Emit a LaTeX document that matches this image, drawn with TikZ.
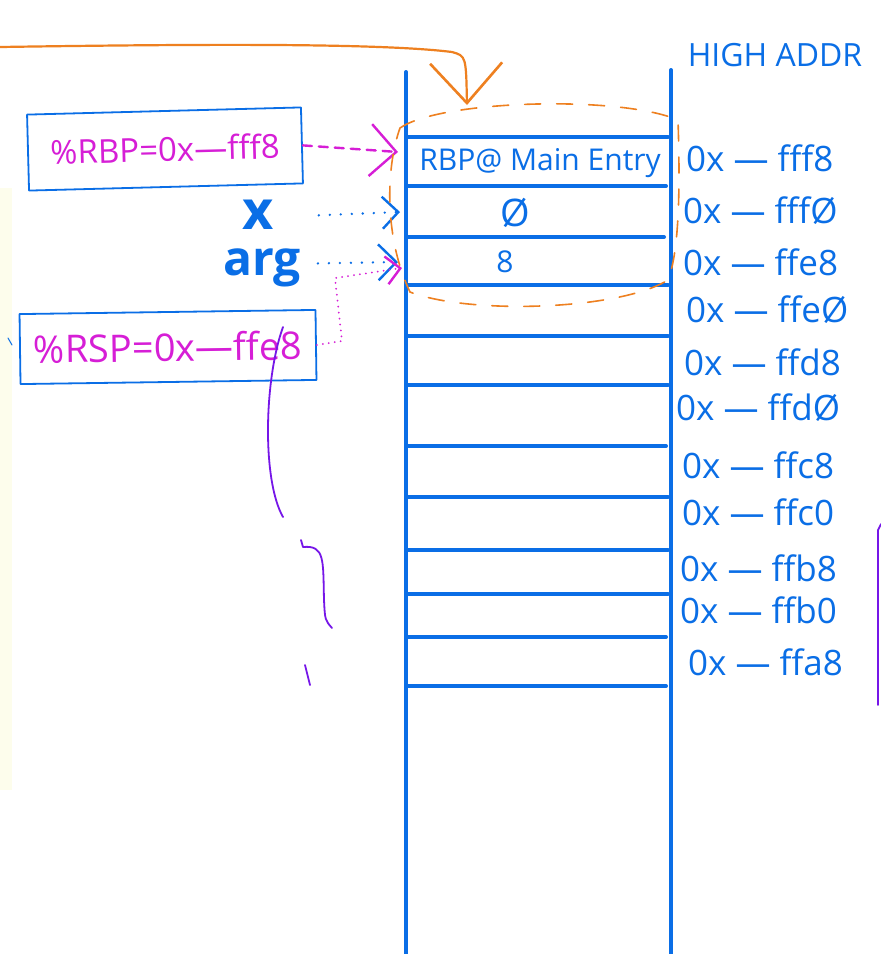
\documentclass[tikz,border=0pt]{standalone}
\usepackage{fontspec}
\setmainfont{Open Sans}
\usetikzlibrary{arrows.meta}
\definecolor{penblue}{RGB}{10,110,230}
\definecolor{penpink}{RGB}{214,30,214}
\definecolor{penorange}{RGB}{238,128,32}
\definecolor{penpurple}{RGB}{118,22,232}
\definecolor{padyellow}{RGB}{253,253,236}

\begin{document}
\begin{tikzpicture}[x=1pt,y=-1pt,line cap=round,line join=round,
  wall/.style={penblue,line width=4pt},
  addr/.style={penblue,anchor=west,inner sep=0pt,font=\fontsize{35}{37}\selectfont},
  cell/.style={penblue,inner sep=0pt,font=\fontsize{30}{32}\selectfont},
  regbox/.style={draw=penblue,line width=1.8pt,text=penpink,inner sep=4pt},
  barb/.style={-{Straight Barb[length=#1,width=2*#1,line width=2.4pt]}}]
\useasboundingbox (0,0) rectangle (881,954);
\fill[white] (0,0) rectangle (881,954);
\fill[padyellow] (0,188) rectangle (12,790);
\draw[penblue,line width=1pt] (8,338) -- (12,345);

% the stack
\draw[wall] (406,72) -- (406,954);
\draw[wall] (671,70) -- (671,954);
\draw[wall] (408,137) -- (668,137);
\draw[wall] (408,186) -- (666,186);
\draw[wall] (408,237) -- (664,237);
\draw[wall] (408,285) -- (668,285);
\draw[wall] (408,336) -- (668,336);
\draw[wall] (408,385) -- (668,385);
\draw[wall] (408,446) -- (666,446);
\draw[wall] (408,497) -- (668,497);
\draw[wall] (408,550) -- (668,550);
\draw[wall] (408,594) -- (668,594);
\draw[wall] (408,637) -- (666,637);
\draw[wall] (408,686) -- (666,686);

\node[cell] (mainentry) at (540,163) {RBP@ Main Entry};
\node[cell,font=\fontsize{38}{40}\selectfont] (zeroslot) at (515,213) {Ø};
\node[cell] (eightslot) at (505,262) {8};

% addresses
\node[penblue,font=\fontsize{32}{34}\selectfont] (high) at (775,55) {HIGH ADDR};
\node[addr] (a1) at (686,158) {0x — fff8};
\node[addr] (a2) at (683,211) {0x — fffØ};
\node[addr] (a3) at (683,262) {0x — ffe8};
\node[addr] (a4) at (686,310) {0x — ffeØ};
\node[addr] (a5) at (684,362) {0x — ffd8};
\node[addr] (a6) at (676,408) {0x — ffdØ};
\node[addr] (a7) at (682,465) {0x — ffc8};
\node[addr] (a8) at (682,512) {0x — ffc0};
\node[addr] (a9) at (680,568) {0x — ffb8};
\node[addr] (a10) at (680,610) {0x — ffb0};
\node[addr] (a11) at (688,662) {0x — ffa8};

% registers and args
\node[regbox,minimum width=274pt,minimum height=76pt,rotate=1.5,
  font=\fontsize{33}{35}\selectfont] (rbp) at (165,149) {\%RBP=0x—fff8};
\node[regbox,minimum width=296pt,minimum height=70pt,rotate=0.8,
  font=\fontsize{38}{40}\selectfont] (rsp) at (168,347) {\%RSP=0x—ffe8};
\node[penblue,inner sep=0pt,anchor=base,font=\fontsize{54}{56}\selectfont\bfseries] (xvar) at (258,229) {x};
\node[penblue,inner sep=0pt,anchor=base,font=\fontsize{48}{50}\selectfont\bfseries] (argvar) at (262,275) {arg};

\coordinate (w1) at (398,152);
\coordinate (w2) at (400,212);
\coordinate (w3) at (398,262);
\coordinate (w4) at (402,268);
\draw[penpink,line width=2.4pt,dash pattern=on 9pt off 7pt,barb=26pt] (rbp.east) -- (w1);
\draw[penblue,line width=2.6pt,dash pattern=on 0pt off 11pt,barb=16pt] (xvar.east)++(45,1) -- (w2);
\draw[penblue,line width=2.6pt,dash pattern=on 0pt off 11pt,barb=18pt] (argvar.east)++(17,-4) -- (w3);
\draw[penpink,line width=2pt,dash pattern=on 0pt off 6pt,barb=14pt] (rsp.east) -- (342,341) -- (335,278) -- (w4);

% frame pointer target
\coordinate (offpage) at (0,47);
\coordinate (frametop) at (467,105);
\draw[penorange,line width=2.2pt,-{Straight Barb[length=40pt,width=72pt,line width=2.6pt]}]
  (offpage) .. controls (200,44) and (380,43) .. (452,52) .. controls (466,56) .. (frametop);
\draw[penorange,line width=1.6pt,dash pattern=on 16pt off 16pt]
  (400,128) .. controls (440,100) and (620,95) .. (678,120)
  .. controls (680,180) and (680,250) .. (668,280)
  .. controls (620,310) and (470,315) .. (410,292)
  .. controls (385,240) and (385,170) .. cycle;

% brace scribbles
\draw[penpurple,line width=1.8pt] (283,327) .. controls (264,380) and (262,480) .. (283,517);
\draw[penpurple,line width=1.8pt] (301,540) -- (303,547) .. controls (325,545) and (323,560) .. (324,600) .. controls (325,620) .. (332,628);
\draw[penpurple,line width=1.8pt] (305,665) -- (310,685);
\draw[penpurple,line width=1.8pt] (881,524) -- (878,530) -- (878,705);
\end{tikzpicture}
\end{document}
